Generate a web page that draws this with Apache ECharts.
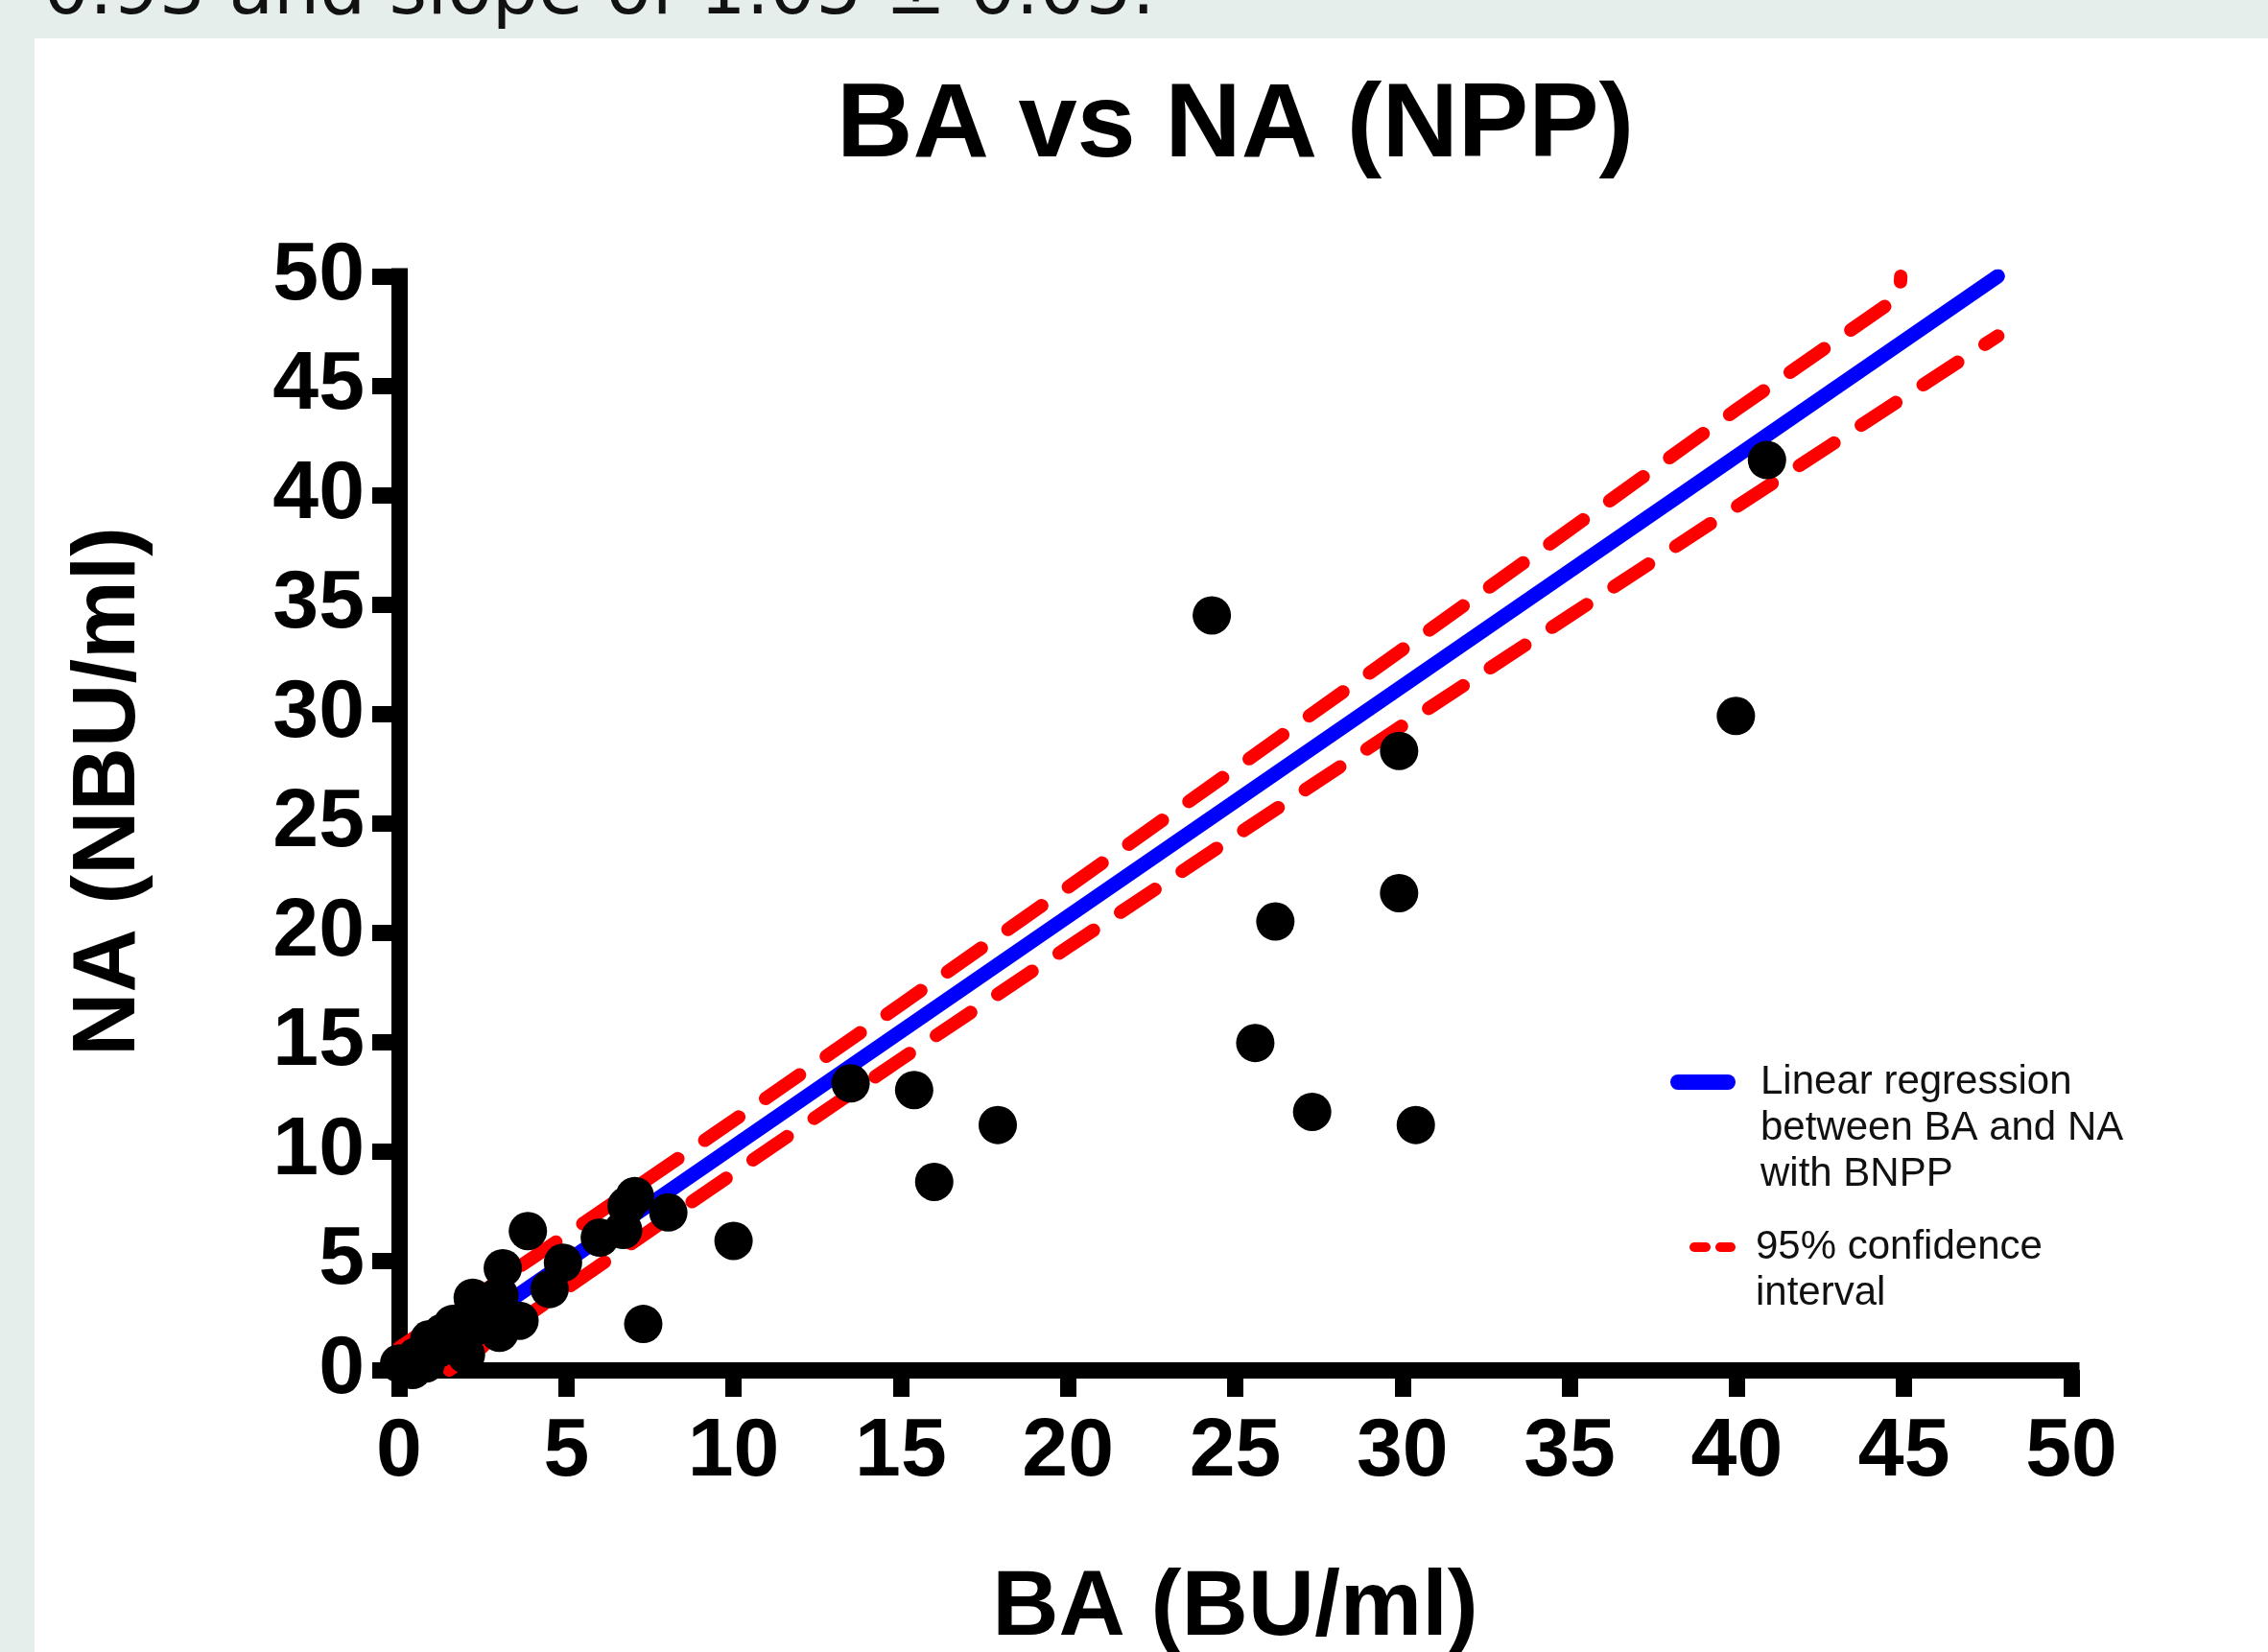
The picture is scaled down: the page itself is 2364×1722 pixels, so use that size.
<!DOCTYPE html>
<html><head><meta charset="utf-8">
<script src="https://cdn.jsdelivr.net/npm/echarts@6/dist/echarts.min.js"></script>
<style>html,body{margin:0;padding:0;background:#e5eeeb}#c{width:2364px;height:1722px}</style>
</head><body><div id="c"></div>
<script>
// ---- data ----
const titleText = 'BA vs NA (NPP)';
const xName = 'BA (BU/ml)';
const yName = 'NA (NBU/ml)';
const topCaption = '0.93 and slope of 1.05 \u00b1 0.05.';
const regName = 'Linear regression\nbetween BA and NA\nwith BNPP';
const ciName = '95% confidence\ninterval';

const scatterBA = [0.0,0.2,0.4,0.5,0.8,0.9,1.2,1.3,1.6,1.8,2.0,2.2,2.3,2.5,3.0,3.0,3.0,3.1,3.6,3.85,4.5,4.9,6.0,6.7,6.8,7.05,8.05,7.3,10.0,13.5,15.4,16.0,17.9,24.3,25.6,26.2,27.3,29.9,29.9,30.4,39.97,40.9];
const scatterNA = [0.3,0.1,0.0,0.6,0.3,1.4,1.0,1.7,2.1,1.1,0.7,3.3,2.0,2.6,3.4,1.7,2.7,4.65,2.25,6.35,3.7,4.9,6.05,6.4,7.5,7.95,7.2,2.1,5.9,13.1,12.8,8.6,11.2,34.5,14.95,20.5,11.8,28.3,21.8,11.2,29.9,41.6];

const regBA = [0.3, 47.8];
const regNA = [0.0, 50.0];

const ciUpperBA = [0, 2, 5, 10, 15, 20, 25, 30, 35, 40, 44.87, 44.9];
const ciUpperNA = [1.02, 3.07, 6.17, 11.40, 16.70, 22.07, 27.49, 32.94, 38.42, 43.92, 49.1, 50.0];
const ciLowerBA = [1.5, 2, 5, 10, 15, 20, 25, 30, 35, 40, 47.8];
const ciLowerNA = [0.0, 0.53, 3.73, 9.0, 14.2, 19.33, 24.41, 29.46, 34.48, 39.48, 47.27];

const axisMin = 0, axisMax = 50, axisStep = 5;

// ---- build ----
const zip = (a, b) => a.map((v, i) => [v, b[i]]);
const chart = echarts.init(document.getElementById('c'), null, {renderer: 'canvas'});
const FONT = 'Liberation Sans';
const axisCommon = {
  type: 'value', min: axisMin, max: axisMax, interval: axisStep,
  splitLine: {show: false},
  axisLine: {show: true, onZero: false, lineStyle: {color: '#000', width: 17, cap: 'square'}},
  axisTick: {show: true, inside: false, length: 28, lineStyle: {color: '#000', width: 17}},
  axisLabel: {color: '#000', fontFamily: FONT, fontWeight: 'bold', fontSize: 86, margin: 36},
  nameLocation: 'middle',
  nameTextStyle: {color: '#000', fontFamily: FONT, fontWeight: 'bold', fontSize: 96}
};
const legendText = {fontFamily: FONT, fontSize: 42, lineHeight: 48, color: '#111'};
chart.setOption({
  backgroundColor: '#e5eeeb',
  animation: false,
  title: {
    text: titleText, left: 872, top: 78, padding: 0,
    textStyle: {fontFamily: FONT, fontWeight: 'bold', fontSize: 110, color: '#000'}
  },
  graphic: [
    {type: 'rect', left: 36, top: 40, z: -10, shape: {width: 2364 - 36, height: 1722 - 40}, style: {fill: '#fff'}},
    {type: 'text', left: 45, top: -44, z: -5, style: {text: topCaption, fontFamily: 'DejaVu Sans', fontSize: 76, fill: '#111'}}
  ],
  grid: {left: 416, right: 205, top: 288, bottom: 294, containLabel: false, outerBoundsMode: 'none'},
  xAxis: Object.assign({}, axisCommon, {
    name: xName, nameGap: 202,
    axisLabel: Object.assign({}, axisCommon.axisLabel, {margin: 43})
  }),
  yAxis: Object.assign({}, axisCommon, {
    name: yName, nameGap: 255, nameRotate: 90,
    nameTextStyle: Object.assign({}, axisCommon.nameTextStyle, {fontSize: 92, padding: [0, 0, 0, 66]})
  }),
  legend: [
    {
      orient: 'vertical', left: 1741, top: 1008, padding: 0,
      itemWidth: 68, itemHeight: 16,
      itemStyle: {borderWidth: 0},
      textStyle: legendText,
      formatter: n => '\n\n' + n,
      data: [{name: regName, icon: 'path://M8,0h52a8,8 0 0 1 0,16h-52a8,8 0 0 1 0,-16z', textStyle: {padding: [0, 0, 0, 21]}}]
    },
    {
      orient: 'vertical', left: 1761, top: 1228, padding: 0,
      itemWidth: 48, itemHeight: 10,
      itemStyle: {borderWidth: 0},
      textStyle: legendText,
      formatter: n => '\n' + n,
      data: [{name: ciName, icon: 'path://M5,0h12a5,5 0 0 1 0,10h-12a5,5 0 0 1 0,-10z M32,0h11a5,5 0 0 1 0,10h-11a5,5 0 0 1 0,-10z', textStyle: {padding: [0, 0, 0, 16]}}]
    }
  ],
  series: [
    {
      name: regName, type: 'line', data: zip(regBA, regNA), symbol: 'none', color: '#0000ff', z: 2,
      lineStyle: {color: '#0000ff', width: 15, cap: 'round'}
    },
    {
      name: ciName, type: 'line', data: zip(ciUpperBA, ciUpperNA), symbol: 'none', color: '#ff0000', z: 3,
      lineStyle: {color: '#ff0000', width: 14, type: [43, 34], cap: 'round', join: 'round'}
    },
    {
      name: ciName, type: 'line', data: zip(ciLowerBA, ciLowerNA), symbol: 'none', color: '#ff0000', z: 3,
      lineStyle: {color: '#ff0000', width: 14, type: [43, 34], cap: 'round', join: 'round'}
    },
    {
      name: 'points', type: 'scatter', data: zip(scatterBA, scatterNA), symbol: 'circle', symbolSize: 40, z: 5,
      itemStyle: {color: '#000', opacity: 1}, clip: false
    }
  ]
});
</script></body></html>
